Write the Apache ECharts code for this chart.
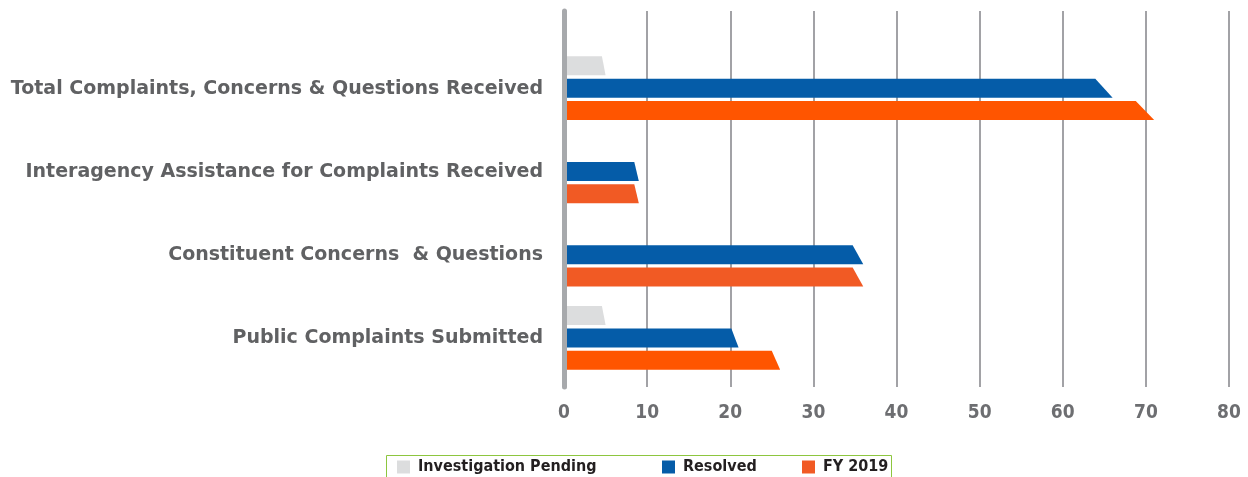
<!DOCTYPE html>
<html>
<head>
<meta charset="utf-8">
<script src="https://cdn.jsdelivr.net/npm/echarts@6/dist/echarts.min.js"></script>
<style>
  html, body { margin: 0; padding: 0; background: #fff; }
  #main { width: 1248px; height: 477px; }
</style>
</head>
<body>
<div id="main"></div>
<script>
// categories, top to bottom
var categories = [
  'Total Complaints, Concerns & Questions Received',
  'Interagency Assistance for Complaints Received',
  'Constituent Concerns  & Questions',
  'Public Complaints Submitted'
];
var pending = [5, 0, 0, 5];
var resolved = [66, 9, 36, 21];
var fy2019 = [71, 9, 36, 26];
var xTicks = [0, 10, 20, 30, 40, 50, 60, 70, 80];

var fyColors = ['#FF5500', '#F15A24', '#F15A24', '#FF5500'];

var chart = echarts.init(document.getElementById('main'));

// slanted-end bar, value sits at the bottom-right corner
function slantBar(slot) {
  return function (params, api) {
    var v = api.value(0);
    if (!v) return;
    var start = api.coord([0, api.value(1)]);
    var end = api.coord([v, api.value(1)]);
    var band = api.size([0, 1])[1];
    var step = band * 0.27;
    var h = 19;
    var cy = start[1] - 0.5 + (slot - 1) * step;
    var len = end[0] - start[0];
    var slant = 2.5 + 0.027 * len;
    return {
      type: 'polygon',
      shape: { points: [
        [start[0], cy - h / 2],
        [end[0] - slant, cy - h / 2],
        [end[0], cy + h / 2],
        [start[0], cy + h / 2]
      ] },
      style: { fill: api.visual('color') }
    };
  };
}

function toData(arr, colors) {
  return arr.map(function (v, i) {
    var d = { value: [v, i] };
    if (colors) d.itemStyle = { color: colors[i] };
    return d;
  });
}

chart.setOption({
  animation: false,
  grid: [
    { left: 564, right: 19, top: 47, bottom: 97 },
    { left: 564, right: 19, top: 11, bottom: 90 }
  ],
  xAxis: [
    { gridIndex: 0, type: 'value', min: 0, max: 80, show: false },
    {
      gridIndex: 1, type: 'value', min: 0, max: 80, interval: 10,
      axisLine: { show: false }, axisTick: { show: false },
      splitLine: { show: true, lineStyle: { color: '#A2A2A6', width: 2 } },
      axisLabel: {
        margin: 17, color: '#6D6E71', fontSize: 19, fontWeight: 'bold',
        fontFamily: 'DejaVu Sans Condensed',
        formatter: function (v) { return xTicks.indexOf(v) >= 0 ? String(v) : ''; }
      }
    }
  ],
  yAxis: [
    {
      gridIndex: 0, type: 'category', data: categories, inverse: true,
      axisLine: { show: false }, axisTick: { show: false },
      axisLabel: {
        margin: 21, color: '#606163', fontSize: 19,
        fontFamily: 'DejaVu Sans', fontWeight: 'bold'
      }
    },
    {
      gridIndex: 1, type: 'value', min: 0, max: 1, z: 10,
      axisLine: { show: true, lineStyle: { color: '#A7A9AC', width: 5 } },
      axisTick: { show: false }, axisLabel: { show: false },
      splitLine: { show: false }
    }
  ],
  legend: [
    { data: ['Investigation Pending'], left: 397, top: 459 },
    { data: ['Resolved'], left: 662, top: 459 },
    { data: ['FY 2019'], left: 802, top: 459 }
  ].map(function (l) {
    l.icon = 'rect';
    l.itemWidth = 13;
    l.itemHeight = 13;
    l.itemGap = 0;
    l.padding = 0;
    l.selectedMode = false;
    l.textStyle = { color: '#231F20', fontSize: 16, fontWeight: 'bold', fontFamily: 'DejaVu Sans Condensed', padding: [3, 0, 0, 3] };
    return l;
  }),
  graphic: [{
    type: 'rect',
    shape: { x: 386.5, y: 455.5, width: 505, height: 30 },
    style: { fill: 'none', stroke: '#8DC63F', lineWidth: 1 }
  }],
  series: [
    {
      name: 'Investigation Pending', type: 'custom', xAxisIndex: 0, yAxisIndex: 0,
      itemStyle: { color: '#DCDDDE' }, encode: { x: 0, y: 1 },
      renderItem: slantBar(0), data: toData(pending)
    },
    {
      name: 'Resolved', type: 'custom', xAxisIndex: 0, yAxisIndex: 0,
      itemStyle: { color: '#055CA8' }, encode: { x: 0, y: 1 },
      renderItem: slantBar(1), data: toData(resolved)
    },
    {
      name: 'FY 2019', type: 'custom', xAxisIndex: 0, yAxisIndex: 0,
      itemStyle: { color: '#F15A24' }, encode: { x: 0, y: 1 },
      renderItem: slantBar(2), data: toData(fy2019, fyColors)
    }
  ]
});
</script>
</body>
</html>
